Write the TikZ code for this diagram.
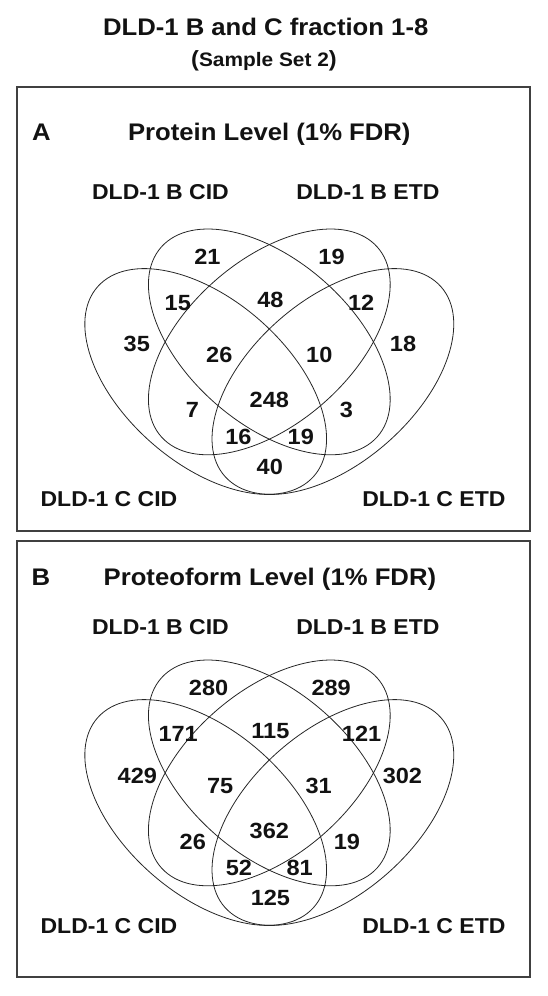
\documentclass[tikz,border=0pt]{standalone}
\usepackage{fontspec}
\setmainfont{Liberation Sans}[FakeStretch=1.07]
\definecolor{txt}{gray}{0.07}
\tikzset{
  num/.style={font=\fontsize{22}{22}\selectfont\bfseries, inner sep=0pt, text=txt},
  setlabel/.style={font=\fontsize{21.5}{21.5}\selectfont\bfseries, inner sep=0pt, text=txt},
  paneltitle/.style={font=\fontsize{24}{24}\selectfont\bfseries, inner sep=0pt, anchor=base, text=txt},
  venn/.style={line width=0.8pt, draw=black!85},
  panel/.style={line width=1.3pt, draw=black!75},
  ell/.style={x radius=138.6, y radius=79.2},
}
\begin{document}
\begin{tikzpicture}[x=1pt,y=1pt]
    \useasboundingbox (0,0) rectangle (548,-996);

    % heading
    \node[paneltitle] (title) at (265.7,-35) {DLD-1 B and C fraction 1-8};
    \node[paneltitle] (subtitle) at (264,-66) {\fontsize{22}{22}\selectfont(\fontsize{19.5}{19.5}\selectfont Sample Set 2\fontsize{22}{22}\selectfont)};

    % panel A
    \draw[panel] (17,-87) rectangle (530,-531);
    \node[paneltitle] (A) at (41.4,-140) {A};
    \node[paneltitle] (titleA) at (269.3,-140) {Protein Level (1\% FDR)};

    \begin{scope}[shift={(269.3,-381.5)}, xscale=1.0707]
        \draw[venn, rotate around={-45:(-59.4,0)}] (-59.4,0) ellipse [ell];
        \draw[venn, rotate around={-45:(0,39.6)}]  (0,39.6)  ellipse [ell];
        \draw[venn, rotate around={45:(0,39.6)}]   (0,39.6)  ellipse [ell];
        \draw[venn, rotate around={45:(59.4,0)}]   (59.4,0)  ellipse [ell];
    \end{scope}

    \node[setlabel] (aBcid) at (160.5,-192.5) {DLD-1 B CID};
    \node[setlabel] (aBetd) at (367.9,-192.5) {DLD-1 B ETD};
    \node[setlabel] (aCcid) at (109,-499) {DLD-1 C CID};
    \node[setlabel] (aCetd) at (433.9,-499) {DLD-1 C ETD};

    \node[num] (a1)  at (207.5,-257) {21};
    \node[num] (a2)  at (331.5,-257) {19};
    \node[num] (a3)  at (177.8,-303) {15};
    \node[num] (a4)  at (270.4,-300) {48};
    \node[num] (a5)  at (361.2,-303) {12};
    \node[num] (a6)  at (136.8,-344) {35};
    \node[num] (a7)  at (219.3,-355) {26};
    \node[num] (a8)  at (319.3,-355) {10};
    \node[num] (a9)  at (403,-344)   {18};
    \node[num] (a10) at (192.3,-410) {7};
    \node[num] (a11) at (269.3,-400) {248};
    \node[num] (a12) at (346.3,-410) {3};
    \node[num] (a13) at (238.5,-437) {16};
    \node[num] (a14) at (300.8,-437) {19};
    \node[num] (a15) at (269.8,-467) {40};

    % panel B
    \draw[panel] (17,-541) rectangle (530,-977);
    \node[paneltitle] (B) at (40.9,-585) {B};
    \node[paneltitle] (titleB) at (269.9,-585) {Proteoform Level (1\% FDR)};

    \begin{scope}[shift={(269.3,-812.5)}, xscale=1.0707]
        \draw[venn, rotate around={-45:(-59.4,0)}] (-59.4,0) ellipse [ell];
        \draw[venn, rotate around={-45:(0,39.6)}]  (0,39.6)  ellipse [ell];
        \draw[venn, rotate around={45:(0,39.6)}]   (0,39.6)  ellipse [ell];
        \draw[venn, rotate around={45:(59.4,0)}]   (59.4,0)  ellipse [ell];
    \end{scope}

    \node[setlabel] (bBcid) at (160.5,-627) {DLD-1 B CID};
    \node[setlabel] (bBetd) at (367.9,-627) {DLD-1 B ETD};
    \node[setlabel] (bCcid) at (109,-926)   {DLD-1 C CID};
    \node[setlabel] (bCetd) at (433.9,-926) {DLD-1 C ETD};

    \node[num] (b1)  at (208.6,-688) {280};
    \node[num] (b2)  at (331.2,-688) {289};
    \node[num] (b3)  at (178.2,-734) {171};
    \node[num] (b4)  at (270.4,-731) {115};
    \node[num] (b5)  at (361.6,-734) {121};
    \node[num] (b6)  at (137.3,-776) {429};
    \node[num] (b7)  at (220.1,-786) {75};
    \node[num] (b8)  at (318.6,-786) {31};
    \node[num] (b9)  at (402.4,-776) {302};
    \node[num] (b10) at (192.8,-842) {26};
    \node[num] (b11) at (269.3,-831) {362};
    \node[num] (b12) at (346.9,-842) {19};
    \node[num] (b13) at (239,-868)   {52};
    \node[num] (b14) at (299.7,-868) {81};
    \node[num] (b15) at (270.4,-898) {125};
\end{tikzpicture}
\end{document}
